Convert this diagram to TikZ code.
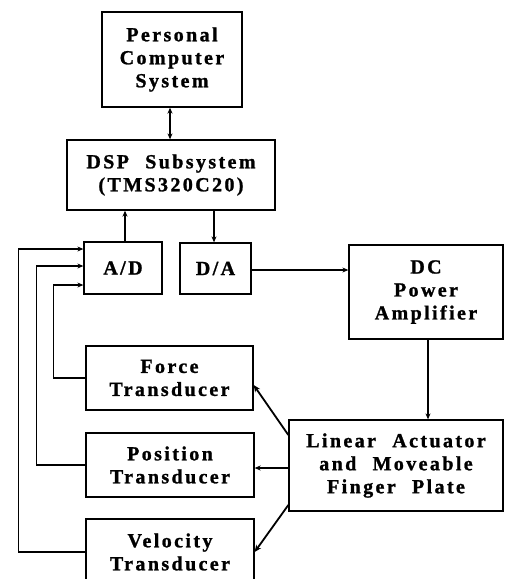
\documentclass[tikz,border=0pt]{standalone}
\usepackage{fontspec}
\setmainfont{Liberation Serif}[BoldFont={Liberation Serif Bold}]
\newfontfamily\lblfont{Liberation Serif}[BoldFont={Liberation Serif Bold},BoldFeatures={FakeBold=1.2},LetterSpace=12,WordSpace=2.2]
\usetikzlibrary{arrows.meta,calc}
\begin{document}
\begin{tikzpicture}[x=1pt,y=-1pt,
  box/.style={draw,line width=1.3pt,inner sep=0pt,align=center,
    font=\lblfont\bfseries\fontsize{20}{23}\selectfont},
  conn/.style={line width=1.1pt,-{Stealth[length=6pt,width=5pt]}},
  thick conn/.style={line width=1.8pt,-{Stealth[length=7pt,width=6pt]}}]
\useasboundingbox (0,0) rectangle (504,579);
\node[box,minimum width=140pt,minimum height=95pt] (PC) at (172,59.5) {Personal\\Computer\\System};
\node[box,minimum width=208pt,minimum height=70pt] (DSP) at (171,175) {DSP Subsystem\\(TMS320C20)};
\node[box,minimum width=78pt,minimum height=52pt] (AD) at (123,268) {A/D};
\node[box,minimum width=71pt,minimum height=51pt] (DA) at (215.5,268.5) {D/A};
\node[box,minimum width=154pt,minimum height=94pt] (DC) at (426,292) {DC\\Power\\Amplifier};
\node[box,minimum width=214pt,minimum height=91pt] (LA) at (396,465.5) {Linear Actuator\\and Moveable\\Finger Plate};
\node[box,minimum width=167pt,minimum height=64pt] (FT) at (169.5,378) {Force\\Transducer};
\node[box,minimum width=168pt,minimum height=64pt] (PT) at (170,465) {Position\\Transducer};
\node[box,minimum width=168pt,minimum height=66pt] (VT) at (170,552) {Velocity\\Transducer};
% PC <-> DSP
\draw[line width=1.1pt,{Stealth[length=6pt,width=5pt]}-{Stealth[length=6pt,width=5pt]}] ([xshift=-2pt]PC.south) -- ([xshift=-2pt]PC.south |- DSP.north);
% A/D -> DSP, DSP -> D/A
\draw[conn] ([xshift=2pt]AD.north) -- ([xshift=2pt]AD.north |- DSP.south);
\draw[conn] ([xshift=-1.5pt]DA.north |- DSP.south) -- ([xshift=-1.5pt]DA.north);
% D/A -> DC
\draw[conn] ([yshift=-1.5pt]DA.east) -- ([yshift=-1.5pt]DA.east -| DC.west);
% DC -> LA
\draw[conn] ([xshift=2pt]DC.south) -- ([xshift=2pt]DC.south |- LA.north);
% LA -> transducers
\draw[thick conn] ([yshift=30.5pt]LA.west) -- ([yshift=-7pt]FT.east);
\draw[conn] ([yshift=-2.5pt]LA.west) -- ([yshift=-3pt]PT.east);
\draw[thick conn] ([yshift=-39.5pt]LA.west) -- (VT.east);
% feedback to A/D
\draw[conn] (FT.west) -- ++(-32,0) |- ([yshift=-17pt]AD.west);
\draw[conn] (PT.west) -- ++(-49,0) |- ([yshift=2pt]AD.west);
\draw[conn] (VT.west) -- ++(-67,0) |- ([yshift=19pt]AD.west);
\end{tikzpicture}
\end{document}
